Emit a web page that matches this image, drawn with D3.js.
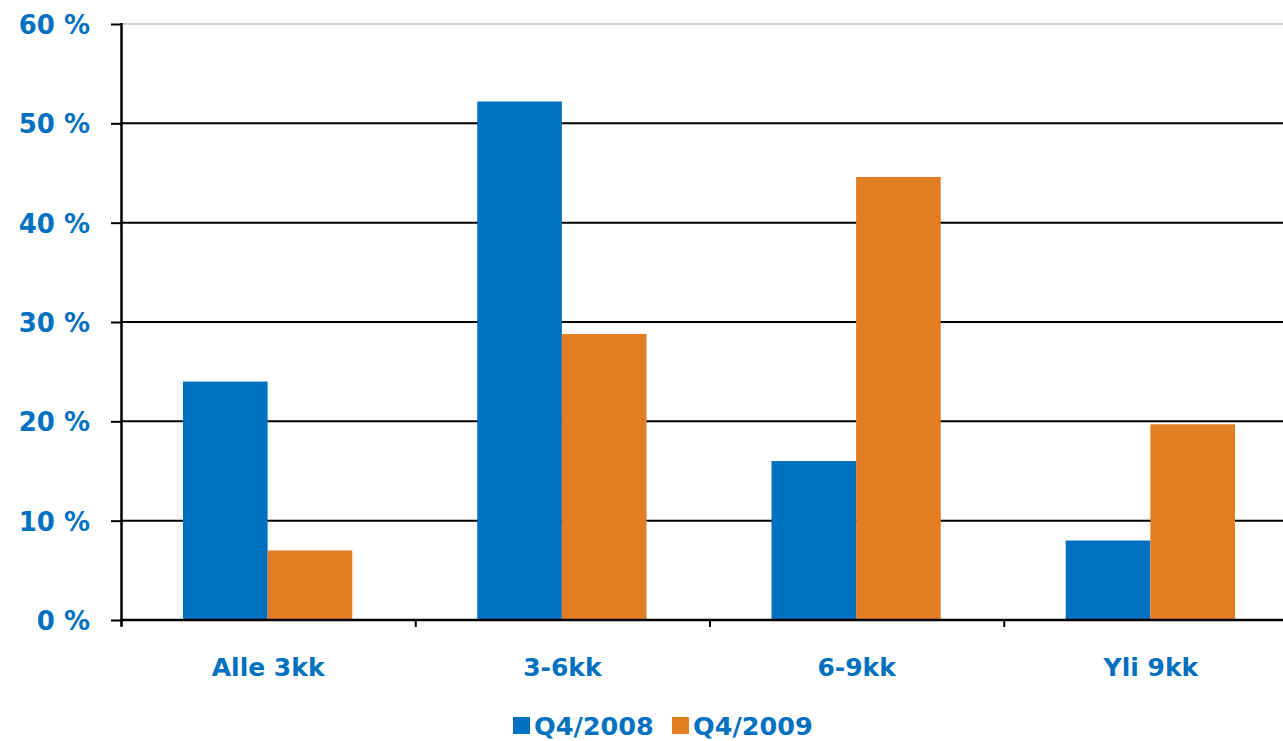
<!DOCTYPE html>
<html>
<head>
<meta charset="utf-8">
<script src="https://cdn.jsdelivr.net/npm/d3@7"></script>
<style>
  body { margin: 0; background: #fff; }
  text { font-family: "DejaVu Sans", Verdana, sans-serif; font-weight: bold; }
</style>
</head>
<body>
<div id="chart"></div>
<script>
// data
var categories = ["Alle 3kk", "3-6kk", "6-9kk", "Yli 9kk"];
var seriesNames = ["Q4/2008", "Q4/2009"];
var q2008 = [24, 52.2, 16, 8];
var q2009 = [7, 28.8, 44.6, 19.7];
var yTicks = [0, 10, 20, 30, 40, 50, 60];

var colors = ["#0070C0", "#E37D24"];
var textBlue = "#0070C0";

var svgWidth = 1283;
var svgHeight = 741;
// the plot runs past the right edge of the picture, as in the original
var margin = { top: 24, bottom: 121, left: 121 };
var width = 1177;
var height = svgHeight - margin.top - margin.bottom;

var svg = d3.select("#chart")
    .append("svg")
    .attr("width", svgWidth)
    .attr("height", svgHeight);

var chartGroup = svg.append("g")
    .attr("transform", `translate(${margin.left}, ${margin.top})`);

var data = categories.map(function(c, i) {
    return { cat: c, values: [q2008[i], q2009[i]] };
});

var x0 = d3.scaleBand()
    .domain(categories)
    .range([0, width])
    .padding(0);

var x1 = d3.scaleBand()
    .domain(seriesNames)
    .range([62, x0.bandwidth() - 63])
    .padding(0);

var y = d3.scaleLinear()
    .domain([0, 60])
    .range([height, 0]);

// gridlines
chartGroup.selectAll(".grid")
    .data(yTicks.filter(d => d > 0))
    .enter()
    .append("line")
    .attr("x1", 0)
    .attr("x2", width)
    .attr("y1", d => y(d))
    .attr("y2", d => y(d))
    .attr("stroke", d => d === 60 ? "#d0d0d0" : "#000")
    .attr("stroke-width", 2);

// bars
var groups = chartGroup.selectAll(".cat")
    .data(data)
    .enter()
    .append("g")
    .attr("transform", d => `translate(${x0(d.cat)}, 0)`);

groups.selectAll("rect")
    .data(d => d.values.map((v, i) => ({ key: seriesNames[i], value: v, i: i })))
    .enter()
    .append("rect")
    .attr("x", d => x1(d.key))
    .attr("y", d => y(d.value))
    .attr("width", x1.bandwidth())
    .attr("height", d => height - y(d.value))
    .attr("fill", d => colors[d.i]);

// y axis
var yAxis = d3.axisLeft(y)
    .tickValues(yTicks)
    .tickSize(10)
    .tickPadding(21)
    .tickFormat(d => d + " %");

var yG = chartGroup.append("g").call(yAxis);
yG.select(".domain").attr("stroke", "#000").attr("stroke-width", 2.5)
    .attr("d", `M0.5,${y(60) - 1}V${height + 6}`);
yG.selectAll(".tick line").attr("stroke", "#000").attr("stroke-width", 2).attr("x2", -10);
yG.selectAll(".tick text")
    .attr("fill", textBlue)
    .style("font-size", "26px")
    .attr("dy", "0.36em");

// x axis
var xG = chartGroup.append("g")
    .attr("transform", `translate(0, ${height})`);
xG.append("line")
    .attr("x1", 0).attr("x2", width)
    .attr("y1", 0).attr("y2", 0)
    .attr("stroke", "#000").attr("stroke-width", 2.5);
xG.selectAll(".xtick")
    .data(categories)
    .enter()
    .append("line")
    .attr("x1", d => x0(d) + 0.5)
    .attr("x2", d => x0(d) + 0.5)
    .attr("y1", 0)
    .attr("y2", 7)
    .attr("stroke", "#000")
    .attr("stroke-width", 2);
xG.selectAll(".xlabel")
    .data(categories)
    .enter()
    .append("text")
    .attr("x", d => x0(d) + x0.bandwidth() / 2)
    .attr("y", 56)
    .attr("text-anchor", "middle")
    .attr("fill", textBlue)
    .style("font-size", "25px")
    .text(d => d);

// legend
var legend = svg.append("g");
var legendX = [513, 672];
seriesNames.forEach(function(name, i) {
    legend.append("rect")
        .attr("x", legendX[i])
        .attr("y", 717)
        .attr("width", 17)
        .attr("height", 17)
        .attr("fill", colors[i]);
    legend.append("text")
        .attr("x", legendX[i] + 21)
        .attr("y", 735)
        .attr("fill", textBlue)
        .style("font-size", "25.5px")
        .text(name);
});
</script>
</body>
</html>
